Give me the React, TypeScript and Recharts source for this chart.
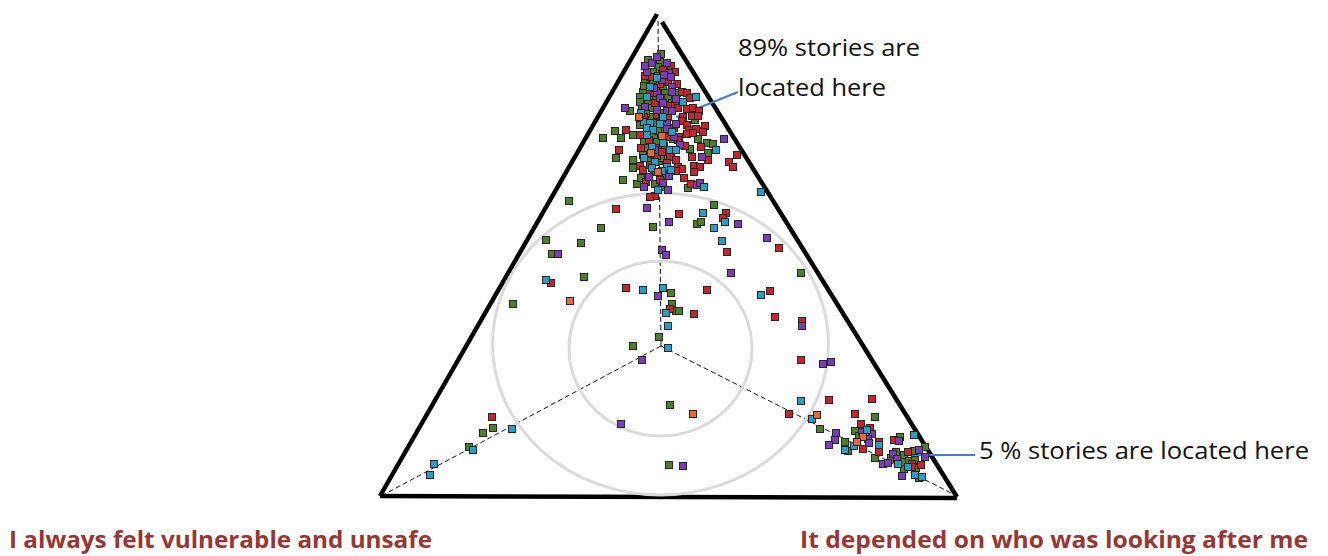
import { ScatterChart, Scatter, XAxis, YAxis, ReferenceLine, ReferenceDot } from 'recharts';

// story positions on the triangle (plot units), grouped by marker colour
const greenStories = [
  [661, 54], [660, 62], [658, 67], [653, 72], [658, 76], [645, 80], [653, 82], [663, 87], [643, 92], [665, 93],
  [677, 93], [640, 97], [653, 98], [668, 98], [640, 102], [648, 103], [672, 103], [630, 111], [642, 109], [650, 108],
  [652, 117], [657, 123], [695, 120], [615, 131], [621, 138], [633, 135], [603, 138], [660, 130], [654, 136], [698, 139],
  [657, 142], [673, 139], [707, 143], [713, 144], [646, 148], [690, 149], [616, 158], [643, 155], [665, 155], [708, 153],
  [633, 160], [659, 161], [666, 159], [633, 168], [623, 180], [637, 184], [663, 187], [688, 188], [661, 158], [666, 175],
  [671, 156], [648, 60], [644, 86], [656, 100], [646, 113], [661, 113], [640, 125], [658, 131], [644, 141], [664, 146],
  [651, 161], [641, 178], [655, 184],
  [569, 201], [714, 205], [697, 224], [701, 222], [601, 228], [653, 227], [546, 240], [581, 243], [552, 254],
  [801, 273], [584, 277], [513, 304], [671, 293], [672, 304], [676, 311], [679, 311], [659, 337], [633, 346], [670, 405],
  [669, 465], [493, 428], [483, 433], [469, 447], [875, 417], [820, 429], [855, 431], [859, 436], [845, 442], [848, 451],
  [900, 437], [896, 452], [891, 458], [904, 455], [914, 451], [925, 447], [875, 458], [904, 462], [909, 461], [915, 460],
  [916, 468], [904, 469], [919, 478],
];

const redStories = [
  [671, 66], [663, 70], [650, 77], [665, 77], [668, 82], [656, 87], [650, 93], [682, 92], [687, 93], [690, 98],
  [655, 103], [675, 105], [678, 108], [687, 109], [693, 108], [699, 111], [644, 117], [668, 117], [683, 117], [692, 116],
  [698, 116], [682, 121], [687, 125], [689, 130], [696, 129], [703, 131], [705, 126], [626, 130], [668, 137], [679, 137],
  [687, 134], [693, 133], [703, 132], [649, 140], [678, 140], [619, 150], [641, 148], [658, 148], [701, 147], [657, 156],
  [670, 157], [692, 157], [737, 155], [640, 166], [650, 165], [678, 167], [682, 169], [694, 166], [700, 167], [708, 160],
  [729, 162], [733, 167], [643, 170], [654, 172], [676, 171], [694, 172], [691, 184], [655, 196], [650, 197], [667, 163],
  [660, 180], [676, 160], [675, 72], [645, 76], [660, 84], [677, 84], [668, 106], [657, 115], [674, 128], [640, 135],
  [662, 152], [685, 146], [646, 182], [684, 178],
  [616, 209], [679, 214], [726, 213], [723, 218], [779, 248], [727, 252], [551, 283], [626, 288],
  [707, 290], [770, 291], [670, 309], [694, 314], [775, 317], [802, 321], [801, 360], [492, 417], [829, 400], [872, 399],
  [789, 414], [855, 414], [861, 424], [870, 428], [879, 442], [863, 449], [894, 440], [879, 452], [908, 452], [912, 464],
  [921, 465], [912, 467],
];

const purpleStories = [
  [652, 63], [667, 63], [647, 72], [669, 73], [671, 77], [662, 80], [672, 87], [657, 93], [672, 92], [660, 98],
  [663, 103], [625, 108], [657, 110], [667, 111], [672, 111], [667, 123], [667, 129], [674, 137], [724, 139], [702, 157],
  [649, 177], [669, 176], [697, 185], [700, 183], [663, 183], [657, 57], [645, 66], [664, 75], [654, 88], [676, 99],
  [645, 107], [662, 118], [676, 124], [655, 150], [680, 145], [668, 190], [644, 187],
  [647, 208], [669, 222], [738, 224], [767, 238], [558, 254],
  [662, 250], [666, 255], [731, 273], [658, 296], [802, 326], [642, 360], [823, 364], [831, 362], [621, 424], [683, 466],
  [862, 432], [872, 434], [868, 439], [836, 433], [835, 440], [829, 445], [869, 443], [899, 441], [919, 450], [893, 454],
  [897, 459], [883, 464], [888, 463], [925, 457], [902, 476],
];

const tealStories = [
  [650, 87], [683, 102], [696, 97], [647, 97], [663, 117], [644, 122], [650, 123], [647, 128], [653, 130], [647, 135],
  [663, 143], [716, 150], [652, 147], [670, 150], [667, 167], [704, 187], [761, 192], [655, 162], [671, 170], [652, 168],
  [657, 78], [641, 113], [660, 124], [672, 132], [644, 158], [662, 171], [676, 150], [658, 190],
  [703, 213], [725, 222], [714, 228], [722, 241], [546, 280], [643, 290], [663, 288], [761, 295], [666, 313], [668, 326],
  [668, 348], [512, 429], [473, 450], [434, 464], [430, 475], [801, 401], [812, 419], [867, 430], [879, 445], [854, 446],
  [845, 450], [914, 435], [898, 464], [908, 467], [915, 475], [922, 477],
];

const orangeStories = [
  [639, 117], [662, 136], [651, 153], [658, 172], [570, 301], [693, 414], [817, 415], [863, 437], [857, 442],
];

const W = 1328;
const H = 556;

// triangle frame, axis guides and rings (plot units)
const frameLines = [
  [[380, 496], [657, 14]],
  [[662, 22], [957, 497]],
  [[380, 496], [957, 498]],
];
const centre = [661, 346];
const guideEnds = [[658, 20], [383, 495], [955, 495]];
const rings = [
  { cx: 660.5, cy: 348.5, rx: 91.5, ry: 87.5 },
  { cx: 660.5, cy: 344, rx: 168, ry: 151 },
];

const toPts = (arr: number[][]) => arr.map(([x, y]) => ({ x, y }));

const square = (fill: string) => (p: any) => (
  <rect x={p.cx - 3.5} y={p.cy - 3.5} width={7} height={7} fill={fill} stroke="#262626" strokeWidth={1} />
);

const series = [
  { name: 'green', data: greenStories, color: '#4f7d30' },
  { name: 'red', data: redStories, color: '#c0282d' },
  { name: 'purple', data: purpleStories, color: '#7a3db3' },
  { name: 'teal', data: tealStories, color: '#2e9cc2' },
  { name: 'orange', data: orangeStories, color: '#e8673c' },
];

const labelFont = "'Open Sans', 'Liberation Sans', Arial, sans-serif";

export default function App() {
  return (
    <div style={{ width: W, height: H, background: '#fff' }}>
      <style>{`body{margin:0}`}</style>
      <ScatterChart width={W} height={H} margin={{ top: 0, right: 0, bottom: 0, left: 0 }}>
        <XAxis type="number" dataKey="x" domain={[0, W]} hide />
        <YAxis type="number" dataKey="y" domain={[0, H]} reversed hide />

        {rings.map((r, i) => (
          <ReferenceDot
            key={`ring-${i}`}
            x={r.cx}
            y={r.cy}
            r={0}
            shape={(p: any) => (
              <ellipse cx={p.cx} cy={p.cy} rx={r.rx} ry={r.ry} fill="none" stroke="#dadada" strokeWidth={3} />
            )}
          />
        ))}

        {guideEnds.map((e, i) => (
          <ReferenceLine
            key={`guide-${i}`}
            segment={[{ x: centre[0], y: centre[1] }, { x: e[0], y: e[1] }]}
            stroke="#111"
            strokeWidth={1}
            strokeDasharray="5 3"
          />
        ))}

        {frameLines.map((l, i) => (
          <ReferenceLine
            key={`frame-${i}`}
            segment={[{ x: l[0][0], y: l[0][1] }, { x: l[1][0], y: l[1][1] }]}
            stroke="#000"
            strokeWidth={4.5}
          />
        ))}

        {series.map((s) => (
          <Scatter
            key={s.name}
            data={toPts(s.data)}
            shape={square(s.color)}
            isAnimationActive={false}
          />
        ))}

        {/* leader lines */}
        <ReferenceLine segment={[{ x: 676, y: 117 }, { x: 738, y: 92 }]} stroke="#4a7cc4" strokeWidth={2} />
        <ReferenceLine segment={[{ x: 912, y: 455 }, { x: 975, y: 455 }]} stroke="#4a7cc4" strokeWidth={2} />

        <ReferenceDot
          x={738}
          y={56}
          r={0}
          shape={(p: any) => (
            <text x={p.cx} y={p.cy} fontFamily={labelFont} fontSize={24} fill="#111" textLength={182} lengthAdjust="spacingAndGlyphs">
              89% stories are
            </text>
          )}
        />
        <ReferenceDot
          x={738}
          y={96}
          r={0}
          shape={(p: any) => (
            <text x={p.cx} y={p.cy} fontFamily={labelFont} fontSize={24} fill="#111" textLength={148} lengthAdjust="spacingAndGlyphs">
              located here
            </text>
          )}
        />
        <ReferenceDot
          x={979}
          y={459}
          r={0}
          shape={(p: any) => (
            <text x={p.cx} y={p.cy} fontFamily={labelFont} fontSize={24} fill="#111" textLength={330} lengthAdjust="spacingAndGlyphs">
              5 % stories are located here
            </text>
          )}
        />
        <ReferenceDot
          x={9}
          y={548}
          r={0}
          shape={(p: any) => (
            <text x={p.cx} y={p.cy} fontFamily={labelFont} fontSize={24} fontWeight="bold" fill="#953735" textLength={423} lengthAdjust="spacingAndGlyphs">
              I always felt vulnerable and unsafe
            </text>
          )}
        />
        <ReferenceDot
          x={800}
          y={548}
          r={0}
          shape={(p: any) => (
            <text x={p.cx} y={p.cy} fontFamily={labelFont} fontSize={24} fontWeight="bold" fill="#953735" textLength={508} lengthAdjust="spacingAndGlyphs">
              It depended on who was looking after me
            </text>
          )}
        />
      </ScatterChart>
    </div>
  );
}
